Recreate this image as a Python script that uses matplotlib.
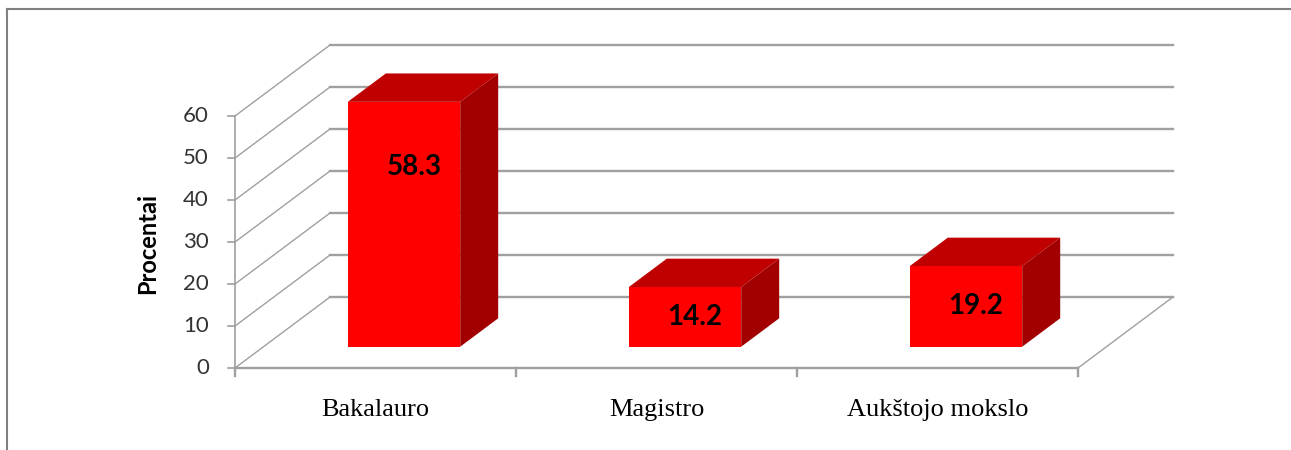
import matplotlib
matplotlib.use("Agg")
import matplotlib.pyplot as plt
from matplotlib.patches import Polygon
from matplotlib.lines import Line2D

# data
categories = ["Bakalauro", "Magistro", "Aukštojo mokslo"]
values = [58.3, 14.2, 19.2]
y_ticks = [0, 10, 20, 30, 40, 50, 60]

# layout of the fake 3D view (pixels of a 1291x450 canvas)
W, H = 1291, 450
ORIGIN_X, ORIGIN_Y = 235, 368   # front-left corner of the floor
CAT_PX = 281                    # width of one category
UNIT_PX = 4.2                   # pixels per percent
DEPTH_X, DEPTH_Y = 95, 71       # shift from front to back wall

DX = DEPTH_X / CAT_PX
DV = DEPTH_Y / UNIT_PX
BAR_W = 0.4
Z0, Z1 = 0.3, 0.7


def proj(x, v, z):
    return x + z * DX, v + z * DV


fig = plt.figure(figsize=(W / 100, H / 100), dpi=100)
ax = fig.add_axes([0, 0, 1, 1])
ax.set_xlim(-ORIGIN_X / CAT_PX, (W - ORIGIN_X) / CAT_PX)
ax.set_ylim((ORIGIN_Y - H) / UNIT_PX, ORIGIN_Y / UNIT_PX)
ax.axis("off")

n = len(categories)
grid_c = "#a0a0a0"

# back wall gridlines and left wall diagonals
for t in y_ticks:
    x0, y0 = proj(0, t, 1)
    x1, y1 = proj(n, t, 1)
    ax.plot([x0, x1], [y0, y1], color=grid_c, lw=1.7, zorder=1)
    fx, fy = proj(0, t, 0)
    ax.plot([fx, x0], [fy, y0], color=grid_c, lw=1.0, zorder=1)
    # tick on the value axis
    ax.plot([fx - 7 / CAT_PX, fx], [fy, fy], color=grid_c, lw=1.2, zorder=1)
    ax.text(fx - 26 / CAT_PX, fy, str(t), ha="right", va="center",
            fontsize=16, family="Lato", color="#333333")

# floor edges and front axis
a = proj(0, 0, 0)
b = proj(n, 0, 0)
c = proj(n, 0, 1)
ax.plot([a[0], b[0]], [a[1], b[1]], color=grid_c, lw=1.7, zorder=1)
ax.plot([b[0], c[0]], [b[1], c[1]], color=grid_c, lw=1.0, zorder=1)
top = proj(0, y_ticks[-1], 0)
ax.plot([a[0], top[0]], [a[1], top[1]], color=grid_c, lw=1.2, zorder=1)
for i in range(n + 1):
    ax.plot([i, i], [0, -8 / UNIT_PX], color=grid_c, lw=1.7, zorder=1)

# bars
for i, (cat, v) in enumerate(zip(categories, values)):
    xl = i + (1 - BAR_W) / 2
    xr = xl + BAR_W
    front = [proj(xl, 0, Z0), proj(xr, 0, Z0), proj(xr, v, Z0), proj(xl, v, Z0)]
    topf = [proj(xl, v, Z0), proj(xr, v, Z0), proj(xr, v, Z1), proj(xl, v, Z1)]
    side = [proj(xr, 0, Z0), proj(xr, 0, Z1), proj(xr, v, Z1), proj(xr, v, Z0)]
    ax.add_patch(Polygon(front, closed=True, fc="#ff0000", ec="none", zorder=3))
    ax.add_patch(Polygon(topf, closed=True, fc="#c00000", ec="none", zorder=3))
    ax.add_patch(Polygon(side, closed=True, fc="#a20000", ec="none", zorder=3))

    lx, ly = proj(i + 0.5 + 10 / CAT_PX, max(v / 2, v - 15.4), Z0)
    ax.text(lx, ly, f"{v:.1f}", ha="center", va="center", fontsize=20,
            family="Lato", fontweight="bold", color="black", zorder=4)

    ax.text(i + 0.5, -42 / UNIT_PX, cat, ha="center", va="center",
            fontsize=19, family="Liberation Serif", color="black")

# value axis title
ax.text(-87 / CAT_PX, (ORIGIN_Y - 243) / UNIT_PX, "Procentai", rotation=90,
        ha="center", va="center", fontsize=17, family="Lato",
        fontweight="bold", color="black")

# chart border (only left and top visible)
bx, by = 7 / W, 1 - 9 / H
fig.add_artist(Line2D([bx, bx], [0, by], color="#808080", lw=1.5,
                      transform=fig.transFigure))
fig.add_artist(Line2D([bx, 1], [by, by], color="#808080", lw=1.5,
                      transform=fig.transFigure))

fig.savefig("out.png", dpi=100, facecolor="white")
